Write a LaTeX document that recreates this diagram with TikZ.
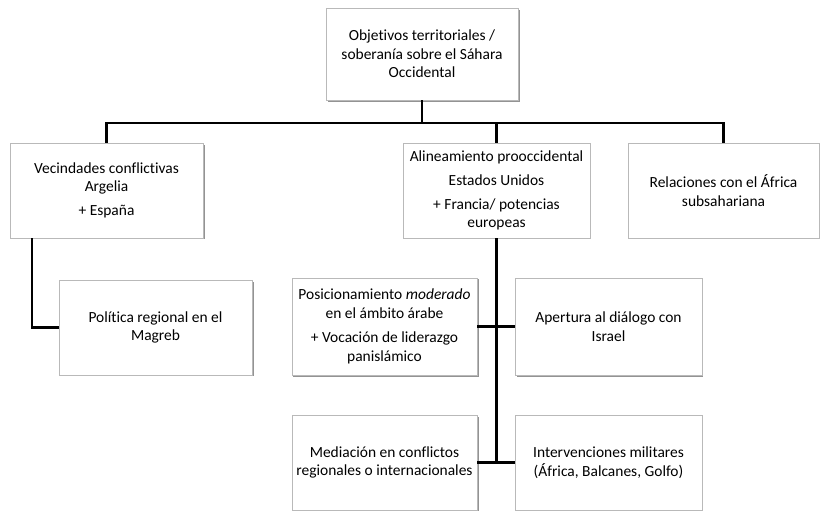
\documentclass[tikz,border=0pt]{standalone}
\usepackage{fontspec}
\setmainfont{Carlito}[Ligatures=NoCommon]
\usetikzlibrary{positioning,shadows,calc}

\begin{document}
\begin{tikzpicture}[x=0.75pt,y=-0.75pt,
  box/.style={draw=gray!55, fill=white, align=center, inner sep=2pt,
    font=\fontsize{11.6}{14}\selectfont,
    drop shadow={shadow xshift=1.2pt, shadow yshift=-1.2pt, fill=gray!85, opacity=1}},
  link/.style={line width=1.8pt}]
  % Page
  \fill[white] (0,0) rectangle (820,511);
  \useasboundingbox (0,0) rectangle (820,511);
  % Top level
  \node[box, minimum width=144pt, minimum height=69pt] (obj) at (422,54)
    {Objetivos territoriales /\\ soberanía sobre el Sáhara\\ Occidental};
  % Second level
  \node[box, minimum width=145pt, minimum height=71pt] (veci) at (106.5,190.5)
    {Vecindades conflictivas\\ Argelia\\[4pt] + España};
  \node[box, minimum width=140pt, minimum height=71pt] (alin) at (496.5,190.5)
    {Alineamiento prooccidental\\[4pt] Estados Unidos\\[4pt] + Francia/ potencias\\ europeas};
  \node[box, minimum width=143pt, minimum height=71pt] (rel) at (723.5,190.5)
    {Relaciones con el África\\ subsahariana};
  % Third level
  \node[box, minimum width=145pt, minimum height=71pt] (pol) at (155.5,327.5)
    {Política regional en el\\ Magreb};
  \node[box, minimum width=139pt, minimum height=73pt] (posi) at (384.5,326.5)
    {Posicionamiento \emph{moderado}\\ en el ámbito árabe\\[4pt] + Vocación de liderazgo\\ panislámico};
  \node[box, minimum width=140pt, minimum height=73pt] (aper) at (608.5,326.5)
    {Apertura al diálogo con\\ Israel};
  \node[box, minimum width=139pt, minimum height=71pt] (med) at (384.5,462.5)
    {Mediación en conflictos\\ regionales o internacionales};
  \node[box, minimum width=140pt, minimum height=71pt] (inter) at (608.5,462.5)
    {Intervenciones militares\\ (África, Balcanes, Golfo)};
  % Connectors
  \coordinate (bar) at (422,123);
  \coordinate (veciout) at (32,238);
  \draw[link] (obj.south) -- (bar);
  \draw[link] (veci.north) -- (veci.north |- bar) -- (rel.north |- bar) -- (rel.north);
  \draw[link] (alin.north |- bar) -- (alin.north);
  \draw[link] (veciout) |- (pol.west);
  \draw[link] (alin.south) -- (alin.south |- med.east);
  \draw[link] (posi.east) -- (aper.west);
  \draw[link] (med.east) -- (inter.west);
\end{tikzpicture}
\end{document}
